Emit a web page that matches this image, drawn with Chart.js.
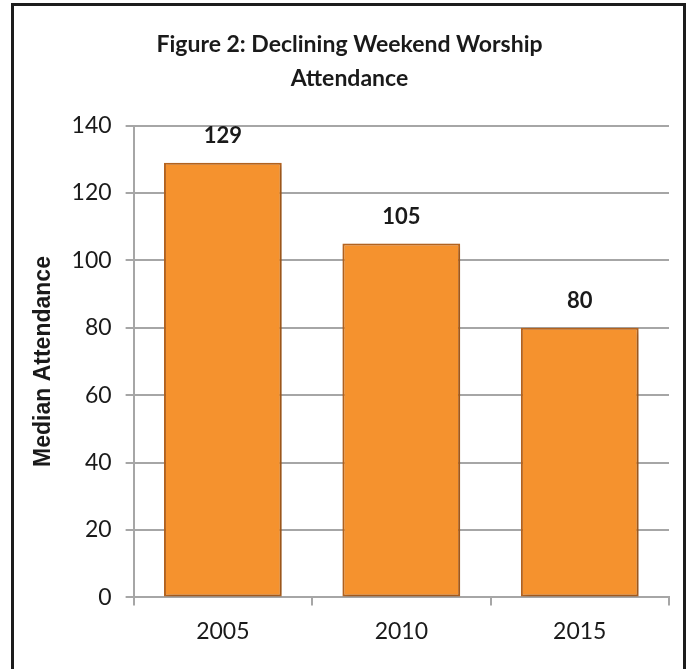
<!DOCTYPE html>
<html>
<head>
<meta charset="utf-8">
<script src="https://cdn.jsdelivr.net/npm/chart.js@4.4.0/dist/chart.umd.min.js"></script>
<style>
  html, body { margin: 0; padding: 0; background: #fff; overflow: hidden; }
  #wrap { position: relative; width: 686px; height: 669px; }
  #frame { position: absolute; left: 11px; top: 3px; width: 669px; height: 700px;
           border: 3px solid #1c1c1c; pointer-events: none; }
</style>
</head>
<body>
<div id="wrap">
  <canvas id="attendanceChart" width="686" height="669"></canvas>
  <div id="frame"></div>
</div>
<script>
const years = ['2005', '2010', '2015'];
const medianAttendance = [129, 105, 80];
const yTicks = [0, 20, 40, 60, 80, 100, 120, 140];

// value labels above each bar
const barLabels = {
  id: 'barLabels',
  afterDatasetsDraw(chart) {
    const ctx = chart.ctx;
    const meta = chart.getDatasetMeta(0);
    ctx.save();
    ctx.font = 'bold 22px Lato';
    ctx.fillStyle = '#1a1a1a';
    ctx.textAlign = 'center';
    ctx.textBaseline = 'bottom';
    meta.data.forEach(function (bar, i) {
      ctx.fillText(String(medianAttendance[i]), bar.x, bar.y - 16);
    });
    ctx.restore();
  }
};

// soft shadow under the bars
const barShadow = {
  id: 'barShadow',
  beforeDatasetsDraw(chart) {
    const ctx = chart.ctx;
    ctx.save();
    ctx.shadowColor = 'rgba(0,0,0,0.22)';
    ctx.shadowBlur = 6;
    ctx.shadowOffsetX = 2;
    ctx.shadowOffsetY = 2;
  },
  afterDatasetsDraw(chart) {
    chart.ctx.restore();
  }
};

document.addEventListener('DOMContentLoaded', function () {
  const ctx = document.getElementById('attendanceChart').getContext('2d');
  new Chart(ctx, {
    type: 'bar',
    data: {
      labels: years,
      datasets: [{
        data: medianAttendance,
        backgroundColor: '#F5922E',
        borderColor: '#B8651F',
        borderWidth: 2,
        borderSkipped: false,
        barPercentage: 0.66,
        categoryPercentage: 1.0
      }]
    },
    options: {
      responsive: false,
      animation: false,
      devicePixelRatio: 1,
      layout: { padding: { top: 20, right: 17, bottom: 12, left: 30 } },
      plugins: {
        legend: { display: false },
        tooltip: { enabled: false },
        title: {
          display: true,
          text: ['Figure 2: Declining Weekend Worship', 'Attendance'],
          color: '#1a1a1a',
          font: { family: 'Lato', size: 23, weight: 'bold', lineHeight: 1.47 },
          padding: { top: 8, bottom: 30 }
        }
      },
      scales: {
        x: {
          grid: {
            offset: true,
            drawOnChartArea: false,
            color: '#A6A6A6',
            lineWidth: 2,
            tickLength: 8
          },
          border: { color: '#A6A6A6', width: 2 },
          ticks: {
            color: '#1a1a1a',
            font: { family: 'Lato', size: 23 },
            padding: 12
          }
        },
        y: {
          min: 0,
          max: 140,
          afterBuildTicks(axis) {
            axis.ticks = yTicks.map(function (v) { return { value: v }; });
          },
          grid: {
            color: '#A6A6A6',
            lineWidth: 2,
            tickLength: 8
          },
          border: { color: '#A6A6A6', width: 2 },
          ticks: {
            color: '#1a1a1a',
            font: { family: 'Lato', size: 23 },
            padding: 14
          },
          title: {
            display: true,
            text: 'Median Attendance',
            color: '#1a1a1a',
            font: { family: 'Liberation Sans', size: 23, weight: 'bold' },
            padding: { top: 0, bottom: 0 }
          }
        }
      }
    },
    plugins: [barShadow, barLabels]
  });
});
</script>
</body>
</html>
